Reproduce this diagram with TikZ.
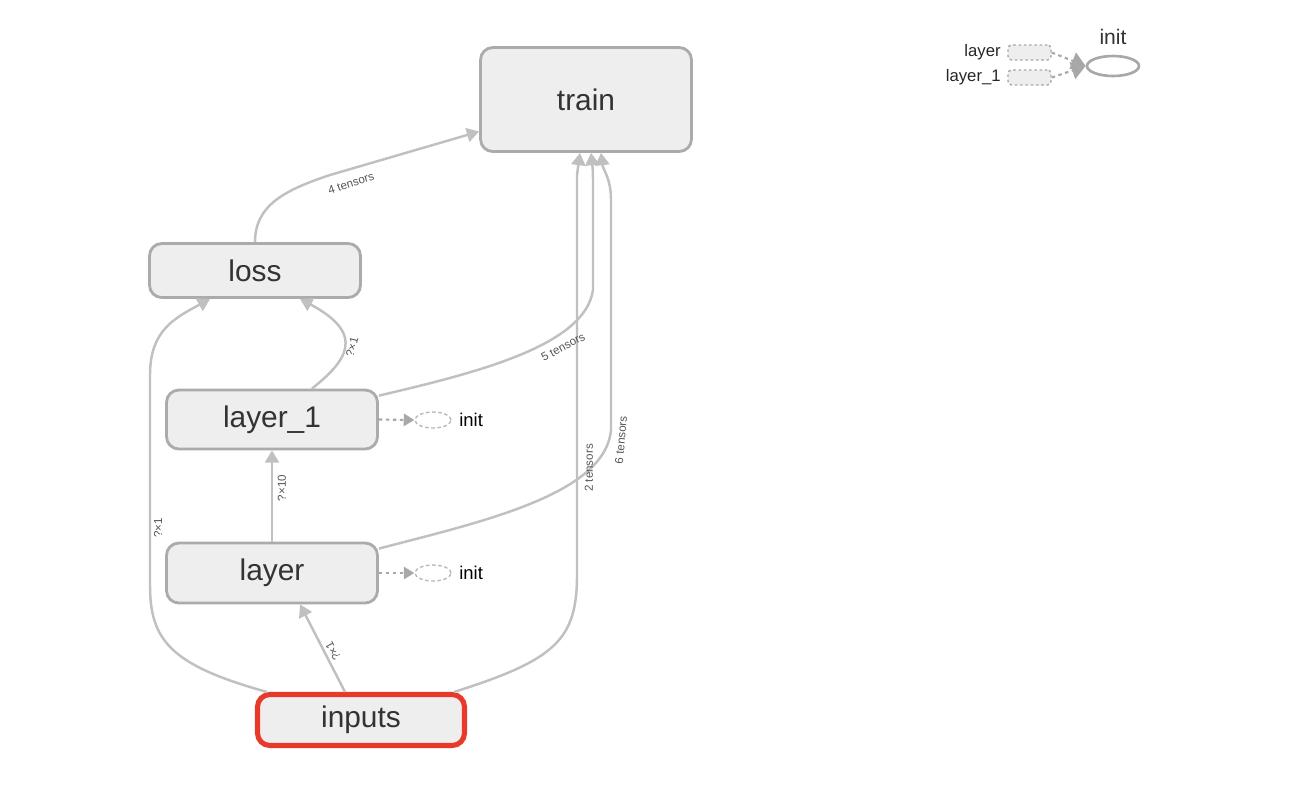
\documentclass[tikz,border=0pt]{standalone}
\usepackage{fontspec}
\setmainfont{Liberation Sans}
\usetikzlibrary{shapes,shapes.geometric,arrows.meta,calc}
\definecolor{nodefill}{HTML}{EEEEEE}
\definecolor{nodeborder}{HTML}{ABABAB}
\definecolor{nodetext}{HTML}{333333}
\definecolor{edgegray}{HTML}{C0C0C0}
\definecolor{labelgray}{HTML}{555555}
\definecolor{inputred}{HTML}{E8392A}
\definecolor{depgray}{HTML}{A8A8A8}
\tikzset{
  opnode/.style = {draw=nodeborder, fill=nodefill, rounded corners=7pt, line width=1.6pt,
    text=nodetext, font=\fontsize{17}{20}\selectfont, minimum width=4.22cm, inner sep=0pt},
  op_in/.style = {opnode, draw=inputred, line width=2.9pt, minimum width=4.14cm, minimum height=1.02cm},
  edge/.style = {draw=edgegray, line width=1.4pt, -{Triangle[length=7pt,width=8pt]}},
  elabel/.style = {text=labelgray, font=\fontsize{6.6}{7}\selectfont, inner sep=0pt},
  ctrldep/.style = {draw=depgray, line width=1.2pt, dash pattern=on 2pt off 2pt,
    -{Triangle[length=6pt,width=7pt]}},
  initsmall/.style = {ellipse, draw=depgray!80, dash pattern=on 2pt off 1.5pt, line width=0.8pt,
    minimum width=0.72cm, minimum height=0.32cm, inner sep=0pt},
  initlabel/.style = {font=\fontsize{10.5}{12}\selectfont, inner sep=0pt},
  legrect/.style = {draw=depgray, fill=nodefill, dash pattern=on 1.5pt off 1.5pt, line width=0.8pt,
    rounded corners=2pt, minimum width=0.86cm, minimum height=0.3cm, inner sep=0pt},
  legtext/.style = {font=\fontsize{9.5}{11}\selectfont, text=black!85, inner sep=0pt},
  legellipse/.style = {ellipse, draw=depgray, line width=1.5pt, minimum width=1.04cm,
    minimum height=0.4cm, inner sep=0pt},
  legdep/.style = {draw=depgray, line width=1.2pt, dash pattern=on 2pt off 2pt,
    -{Triangle[length=8pt,width=10pt]}}
}
\begin{document}
\begin{tikzpicture}[x=0.02cm, y=-0.02cm]
\useasboundingbox (0,0) rectangle (1298,796);
% op nodes
\node [opnode, minimum height=2.08cm] (train) at (586,99.5) {train};
\node [opnode, minimum height=1.08cm] (loss) at (255,270.5) {loss};
\node [opnode, minimum height=1.18cm] (layer_1) at (272,419.5) {layer\_1};
\node [opnode, minimum height=1.2cm] (layer) at (272,573) {layer};
\node [op_in] (inputs) at (361,720) {inputs};

% data edges
\draw [edge] (loss.north) .. controls (255,205) and (285,190) .. (330,175)
  -- ([shift={(0,32)}]train.west);
\draw [edge] ([shift={(12,0)}]inputs.north west) .. controls (170,665) and (150,640) .. (150,585)
  -- (150,375) .. controls (150,330) and (175,318) .. ([shift={(-45,0)}]loss.south);
\draw [edge] ([shift={(40,0)}]layer_1.north) .. controls (345,362) and (368,335) .. ([shift={(45,0)}]loss.south);
\draw [edge] (layer.north) -- (layer_1.south);
\draw [edge] ([shift={(-16,0)}]inputs.north) -- ([shift={(28,0)}]layer.south);
\draw [edge] ([shift={(-13,0)}]inputs.north east) .. controls (555,660) and (577,640) .. (577,575)
  -- (577,175) -- ([shift={(-6,0)}]train.south);
\draw [edge] ([shift={(0,7)}]layer_1.north east) .. controls (480,372) and (585,345) .. (593,290)
  -- (593,180) .. controls (593,168) and (592,162) .. ([shift={(5,0)}]train.south);
\draw [edge] ([shift={(0,7)}]layer.north east) .. controls (480,522) and (605,495) .. (611,430)
  -- (611,200) .. controls (611,178) and (603,170) .. ([shift={(15,0)}]train.south);

% edge labels
\node [elabel, rotate=18] (lbl_loss) at (351,183) {4 tensors};
\node [elabel, rotate=90] (lbl_in_loss) at (158,528) {?×1};
\node [elabel, rotate=75] (lbl_l1_loss) at (352,347) {?×1};
\node [elabel, rotate=90] (lbl_l_l1) at (282,488) {?×10};
\node [elabel, rotate=118] (lbl_in_l) at (333,651) {?×1};
\node [elabel, rotate=28] (lbl_l1_tr) at (563,347) {5 tensors};
\node [elabel, rotate=90] (lbl_in_tr) at (589,468) {2 tensors};
\node [elabel, rotate=85] (lbl_l_tr) at (621,440) {6 tensors};

% init dependencies
\node [initsmall] (init_l1) at (433,420) {};
\node [initlabel, anchor=west] (init_l1_txt) at (459,420) {init};
\draw [ctrldep] (layer_1.east) -- (init_l1.west);
\node [initsmall] (init_l) at (433,573) {};
\node [initlabel, anchor=west] (init_l_txt) at (459,573) {init};
\draw [ctrldep] (layer.east) -- (init_l.west);

% legend
\node [legrect] (leg_layer) at (1029.5,52.5) {};
\node [legtext, anchor=east] (leg_layer_txt) at (1001,52.5) {layer};
\node [legrect] (leg_layer_1) at (1029.5,77.5) {};
\node [legtext, anchor=east] (leg_layer_1_txt) at (1001,77.5) {layer\_1};
\node [legellipse] (leg_init) at (1113,66) {};
\node [legtext, font=\fontsize{12}{14}\selectfont, text=nodetext] (leg_init_txt) at (1113,37) {init};
\draw [legdep] (leg_layer.east) -- (leg_init.west);
\draw [legdep] (leg_layer_1.east) -- (leg_init.west);
\end{tikzpicture}
\end{document}
